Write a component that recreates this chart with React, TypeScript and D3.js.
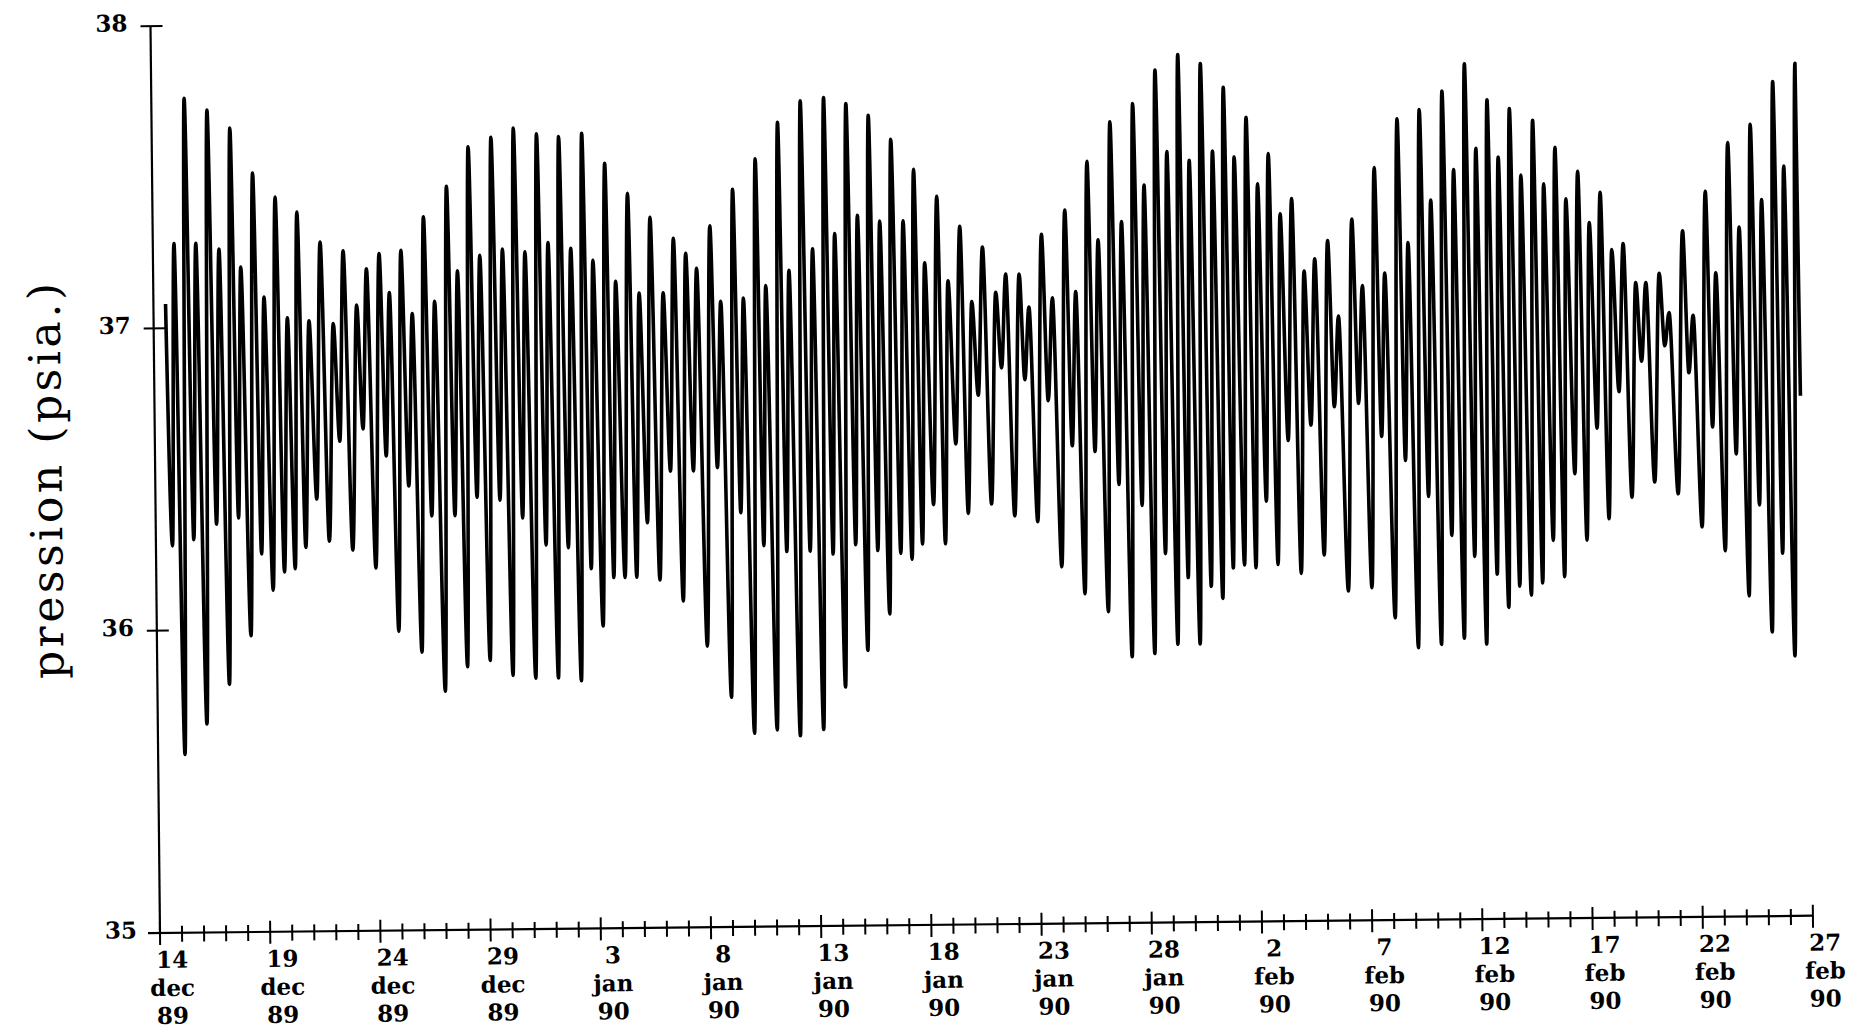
import React from 'react';
import * as d3 from 'd3';

// Time in days since 14 dec 89 00h; pressure in psia
const highDays = [0.55,0.96,1.49,1.95,2.52,3.00,3.55,3.98,4.56,5.02,5.57,6.07,6.55,7.05,
7.59,8.15,8.63,9.22,9.68,10.26,10.71,11.25,11.74,12.29,12.76,13.35,13.81,
14.35,14.83,15.39,15.86,16.41,16.88,17.46,17.93,18.46,18.96,19.51,19.96,20.54,
20.98,21.56,22.04,22.57,23.13,23.62,24.17,24.66,25.28,25.74,26.33,26.77,27.37,
27.79,28.40,28.85,29.44,29.93,30.50,30.94,31.51,31.98,32.52,32.99,33.53,34.05,
34.55,35.01,35.59,36.06,36.62,37.13,37.64,38.22,38.68,39.29,39.72,40.32,40.79,
41.39,41.85,42.42,42.89,43.48,43.96,44.52,45.00,45.55,46.05,46.59,47.06,47.61,48.12,
48.64,49.10,49.66,50.15,50.65,51.16,51.69,52.22,52.71,53.30,53.76,54.41,54.86,
55.45,55.88,56.51,56.95,57.52,58.00,58.56,59.05,59.59,60.07,60.60,61.08,61.61,
62.10,62.66,63.13,63.66,64.13,64.68,65.18,65.69,66.19,66.71,67.26,67.72,68.33,
68.76,69.41,69.85,70.46,70.90,71.50,71.98,72.53,73.01,73.57,74.03,74.59];

const highValues = [37.08,37.28,37.76,37.28,37.72,37.26,37.66,37.20,37.51,37.10,37.43,37.03,37.38,37.02,
37.28,37.01,37.25,37.07,37.19,37.24,37.11,37.25,37.04,37.36,37.08,37.46,37.18,
37.59,37.23,37.62,37.25,37.65,37.24,37.63,37.27,37.62,37.25,37.63,37.21,37.53,
37.14,37.43,37.10,37.35,37.10,37.28,37.23,37.18,37.32,37.07,37.44,37.08,37.54,
37.12,37.66,37.17,37.73,37.24,37.74,37.29,37.72,37.35,37.68,37.33,37.60,37.33,
37.50,37.19,37.41,37.13,37.31,37.06,37.24,37.09,37.15,37.15,37.04,37.28,37.07,
37.36,37.09,37.52,37.26,37.65,37.32,37.71,37.44,37.82,37.55,37.87,37.52,37.84,37.55,
37.76,37.53,37.66,37.44,37.54,37.34,37.39,37.15,37.19,37.25,37.00,37.32,37.10,
37.49,37.14,37.65,37.24,37.68,37.38,37.74,37.48,37.83,37.55,37.71,37.52,37.68,
37.46,37.64,37.43,37.55,37.38,37.47,37.30,37.40,37.21,37.23,37.10,37.10,37.13,
37.00,37.27,36.99,37.40,37.13,37.56,37.28,37.62,37.37,37.76,37.48,37.82];

const lowDays = [0.75,1.22,1.72,2.23,2.76,3.27,3.76,4.27,4.79,5.30,5.82,6.31,6.80,
7.32,7.87,8.39,8.93,9.45,9.97,10.49,10.98,11.50,12.02,12.53,13.06,13.58,
14.08,14.59,15.11,15.63,16.14,16.65,17.17,17.70,18.20,18.71,19.24,19.74,20.25,
20.76,21.27,21.80,22.31,22.85,23.38,23.90,24.42,24.97,25.51,26.04,26.55,27.07,
27.58,28.10,28.62,29.15,29.68,30.21,30.72,31.22,31.75,32.25,32.75,33.26,33.79,34.30,
34.78,35.30,35.82,36.34,36.87,37.38,37.93,38.45,38.98,39.50,40.02,40.55,41.09,
41.62,42.13,42.65,43.18,43.72,44.24,44.76,45.27,45.80,46.32,46.82,47.33,47.86,
48.38,48.87,49.38,49.90,50.40,50.90,51.42,51.95,52.46,53.00,53.53,54.08,54.63,
55.15,55.66,56.19,56.73,57.23,57.76,58.28,58.80,59.32,59.83,60.33,60.84,61.35,
61.86,62.38,62.90,63.40,63.90,64.41,64.93,65.44,65.94,66.45,66.99,67.49,68.03,
68.55,69.09,69.63,70.16,70.68,71.20,71.74,72.26,72.77,73.29,73.80,74.31,74.68];

const lowValues = [36.28,35.59,36.30,35.69,36.35,35.82,36.37,35.98,36.25,36.13,36.19,36.20,36.27,
36.43,36.29,36.62,36.26,36.66,36.20,36.57,35.99,36.47,35.92,36.37,35.79,36.37,
35.87,36.43,35.89,36.42,35.84,36.36,35.83,36.27,35.83,36.26,35.82,36.19,36.00,
36.16,36.16,36.16,36.34,36.15,36.51,36.08,36.51,35.93,36.52,35.76,36.37,35.64,
36.26,35.65,36.24,35.63,36.24,35.65,36.23,35.79,36.26,35.91,36.24,36.03,36.23,36.21,
36.26,36.39,36.26,36.59,36.36,36.75,36.39,36.84,36.35,36.80,36.33,36.73,36.18,
36.58,36.09,36.56,36.03,36.45,35.88,36.38,35.89,36.22,35.92,36.14,35.92,36.11,
36.07,36.17,36.18,36.17,36.39,36.18,36.59,36.15,36.64,36.21,36.70,36.09,36.71,
36.10,36.60,36.00,36.52,35.90,36.40,35.91,36.27,35.93,36.20,35.91,36.14,36.03,
36.10,36.07,36.11,36.25,36.13,36.47,36.25,36.62,36.32,36.74,36.39,36.84,36.44,
36.89,36.40,36.80,36.29,36.62,36.21,36.53,36.06,36.36,35.94,36.20,35.86,36.72];

const yTicks = [35, 36, 37, 38];
const labelDays = [0, 5, 10, 15, 20, 25, 30, 35, 40, 45, 50, 55, 60, 65, 70, 75];
const labelDate = ['14','19','24','29','3','8','13','18','23','28','2','7','12','17','22','27'];
const labelMonth = ['dec','dec','dec','dec','jan','jan','jan','jan','jan','jan','feb','feb','feb','feb','feb','feb'];
const labelYear = ['89','89','89','89','90','90','90','90','90','90','90','90','90','90','90','90'];
const yTitle = 'pression (psia.)';

const FONT = '"DejaVu Serif", "Liberation Serif", serif';

export default function App() {
  const W = 1862, H = 1030;
  const ox = 160, oy = 933;
  const x = d3.scaleLinear().domain([0, 75]).range([0, 1653]);
  const y = d3.scaleLinear().domain([35, 38]).range([0, -907]);

  const pts: [number, number][] = [
    ...highDays.map((d, i) => [d, highValues[i]] as [number, number]),
    ...lowDays.map((d, i) => [d, lowValues[i]] as [number, number]),
  ].sort((a, b) => a[0] - b[0]);

  const line = d3.line<[number, number]>()
    .x(d => x(d[0]))
    .y(d => y(d[1]))
    .curve(d3.curveMonotoneX);

  const dayTicks = d3.range(0, 76);

  return (
    <svg width={W} height={H} style={{ position: 'absolute', left: 0, top: 0, display: 'block', background: '#fff' }}>
      <rect x={0} y={0} width={W} height={H} fill="#fff" />
      <g transform={`translate(${ox},${oy}) rotate(-0.6)`}>
        {/* y axis */}
        <line x1={0} y1={y(35)} x2={0} y2={y(38)} stroke="#000" strokeWidth={2.2} />
        {yTicks.map(t => (
          <g key={t}>
            <line x1={-10} x2={t === 35 ? 0 : 12} y1={y(t)} y2={y(t)} stroke="#000" strokeWidth={2} />
            <text x={-23} y={y(t) + 5} textAnchor="end" fontFamily={FONT} fontWeight="bold" fontSize={23} fill="#000">{t}</text>
          </g>
        ))}
        {/* x axis */}
        <line x1={-12} y1={0} x2={x(75)} y2={0} stroke="#000" strokeWidth={2.2} />
        {dayTicks.map(d => {
          const major = d % 5 === 0;
          return <line key={d} x1={x(d)} x2={x(d)} y1={major ? -11 : -7} y2={major ? 12 : 9} stroke="#000" strokeWidth={2} />;
        })}
        {labelDays.map((d, i) => (
          <g key={d} fontFamily={FONT} fontWeight="bold" fontSize={23} fill="#000" textAnchor="middle">
            <text x={x(d) + 12} y={35}>{labelDate[i]}</text>
            <text x={x(d) + 12} y={63}>{labelMonth[i]}</text>
            <text x={x(d) + 12} y={91}>{labelYear[i]}</text>
          </g>
        ))}
        {/* data */}
        <path d={line(pts) || ''} fill="none" stroke="#000" strokeWidth={3.6} strokeLinejoin="round" />
      </g>
      <text transform="translate(50,481) rotate(-90.6)" textAnchor="middle" dominantBaseline="middle"
        fontFamily={FONT} fontSize={44} fill="#000" textLength={396} lengthAdjust="spacing">{yTitle}</text>
    </svg>
  );
}
